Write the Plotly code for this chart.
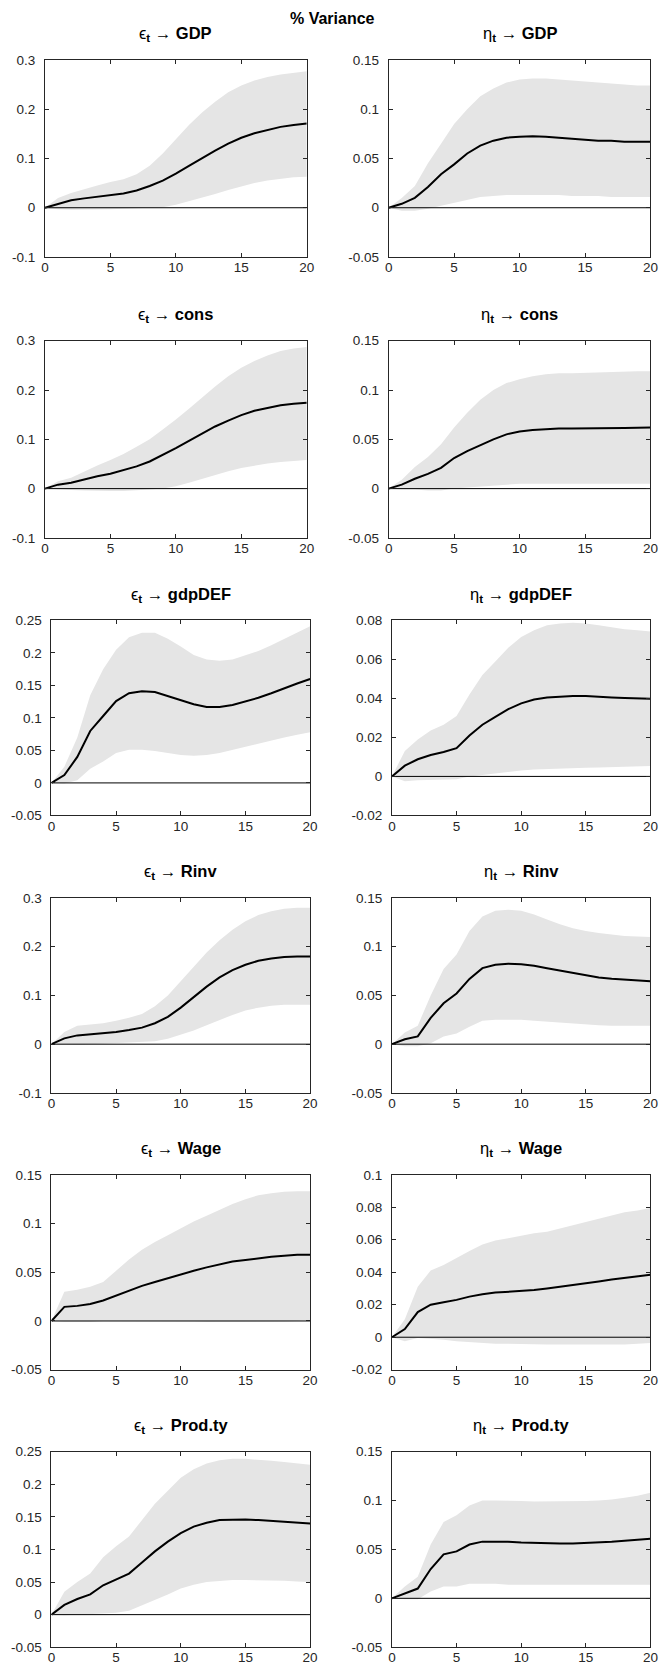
import plotly.graph_objects as go

W, H = 668, 1679

horizon = [0, 1, 2, 3, 4, 5, 6, 7, 8, 9, 10, 11, 12, 13, 14, 15, 16, 17, 18, 19, 20]
x_ticks = [0, 5, 10, 15, 20]

shock_labels = ["ϵ", "η"]
variables = ["GDP", "cons", "gdpDEF", "Rinv", "Wage", "Prod.ty"]

# ---- eps -> GDP
eps_gdp_med = [0, 0.008, 0.015, 0.019, 0.022, 0.025, 0.029, 0.035, 0.044, 0.055, 0.069, 0.085, 0.101, 0.116, 0.130, 0.142, 0.151, 0.158, 0.164, 0.168, 0.171]
eps_gdp_up = [0, 0.020, 0.030, 0.038, 0.045, 0.052, 0.058, 0.068, 0.085, 0.110, 0.140, 0.168, 0.193, 0.215, 0.234, 0.248, 0.258, 0.265, 0.270, 0.274, 0.277]
eps_gdp_lo = [0, -0.003, -0.004, -0.004, -0.004, -0.003, -0.002, -0.001, 0.000, 0.001, 0.006, 0.013, 0.020, 0.028, 0.036, 0.043, 0.050, 0.055, 0.059, 0.062, 0.063]
# ---- eta -> GDP
eta_gdp_med = [0, 0.004, 0.010, 0.021, 0.034, 0.044, 0.055, 0.063, 0.068, 0.071, 0.072, 0.0725, 0.072, 0.071, 0.070, 0.069, 0.068, 0.068, 0.067, 0.067, 0.067]
eta_gdp_up = [0, 0.010, 0.022, 0.045, 0.065, 0.085, 0.100, 0.113, 0.121, 0.127, 0.130, 0.131, 0.131, 0.130, 0.129, 0.128, 0.127, 0.126, 0.125, 0.124, 0.124]
eta_gdp_lo = [0, -0.003, -0.003, -0.001, 0.002, 0.005, 0.008, 0.011, 0.012, 0.013, 0.013, 0.013, 0.013, 0.013, 0.012, 0.012, 0.012, 0.011, 0.011, 0.011, 0.011]
# ---- eps -> cons
eps_cons_med = [0, 0.008, 0.012, 0.019, 0.025, 0.030, 0.037, 0.045, 0.055, 0.068, 0.082, 0.097, 0.112, 0.126, 0.138, 0.149, 0.158, 0.164, 0.169, 0.172, 0.174]
eps_cons_up = [0, 0.015, 0.022, 0.035, 0.047, 0.058, 0.070, 0.085, 0.100, 0.120, 0.140, 0.162, 0.185, 0.207, 0.228, 0.245, 0.259, 0.270, 0.279, 0.284, 0.287]
eps_cons_lo = [0, -0.002, -0.003, -0.004, -0.005, -0.005, -0.005, -0.004, -0.002, 0.000, 0.005, 0.012, 0.020, 0.028, 0.035, 0.042, 0.047, 0.051, 0.054, 0.056, 0.058]
# ---- eta -> cons
eta_cons_med = [0, 0.004, 0.010, 0.015, 0.021, 0.031, 0.038, 0.044, 0.050, 0.055, 0.058, 0.0595, 0.0603, 0.061, 0.061, 0.061, 0.061, 0.0613, 0.0615, 0.0618, 0.062]
eta_cons_up = [0, 0.009, 0.022, 0.032, 0.045, 0.062, 0.077, 0.090, 0.100, 0.107, 0.111, 0.114, 0.116, 0.117, 0.117, 0.1175, 0.118, 0.118, 0.1185, 0.119, 0.119]
eta_cons_lo = [0, -0.001, -0.001, -0.002, -0.002, 0.000, 0.001, 0.002, 0.003, 0.004, 0.005, 0.005, 0.005, 0.005, 0.005, 0.005, 0.005, 0.005, 0.005, 0.005, 0.005]
# ---- eps -> gdpDEF
eps_def_med = [0, 0.012, 0.040, 0.080, 0.103, 0.126, 0.138, 0.141, 0.140, 0.134, 0.127, 0.121, 0.117, 0.117, 0.120, 0.125, 0.131, 0.138, 0.146, 0.153, 0.160]
eps_def_up = [0, 0.025, 0.070, 0.135, 0.175, 0.205, 0.224, 0.231, 0.231, 0.222, 0.210, 0.197, 0.190, 0.188, 0.190, 0.196, 0.203, 0.212, 0.222, 0.232, 0.241]
eps_def_lo = [0, -0.001, 0.004, 0.022, 0.033, 0.046, 0.051, 0.051, 0.049, 0.046, 0.043, 0.042, 0.043, 0.046, 0.051, 0.056, 0.061, 0.066, 0.070, 0.074, 0.078]
# ---- eta -> gdpDEF
eta_def_med = [0, 0.0055, 0.0088, 0.011, 0.0125, 0.0145, 0.021, 0.0265, 0.0305, 0.0345, 0.0375, 0.0395, 0.0405, 0.041, 0.0413, 0.0412, 0.041, 0.0405, 0.0402, 0.040, 0.0398]
eta_def_up = [0, 0.013, 0.019, 0.0235, 0.0265, 0.031, 0.042, 0.052, 0.059, 0.066, 0.0715, 0.075, 0.0775, 0.0785, 0.0788, 0.0785, 0.0775, 0.0765, 0.0755, 0.075, 0.0743]
eta_def_lo = [0, -0.0025, -0.002, -0.0018, -0.0016, -0.0015, 0.0, 0.0008, 0.0015, 0.0022, 0.003, 0.0035, 0.0038, 0.004, 0.0042, 0.0044, 0.0046, 0.0048, 0.005, 0.0052, 0.0053]
# ---- eps -> Rinv
eps_rinv_med = [0, 0.012, 0.018, 0.020, 0.022, 0.025, 0.029, 0.034, 0.043, 0.056, 0.075, 0.097, 0.118, 0.137, 0.152, 0.163, 0.171, 0.176, 0.179, 0.180, 0.180]
eps_rinv_up = [0, 0.025, 0.038, 0.040, 0.043, 0.048, 0.054, 0.062, 0.078, 0.100, 0.130, 0.160, 0.188, 0.213, 0.235, 0.252, 0.265, 0.273, 0.278, 0.280, 0.280]
eps_rinv_lo = [0, -0.001, -0.001, 0.000, 0.001, 0.002, 0.003, 0.004, 0.006, 0.011, 0.019, 0.028, 0.039, 0.050, 0.060, 0.069, 0.075, 0.079, 0.081, 0.081, 0.081]
# ---- eta -> Rinv
eta_rinv_med = [0, 0.005, 0.008, 0.027, 0.042, 0.052, 0.067, 0.078, 0.0815, 0.0825, 0.082, 0.0805, 0.078, 0.0755, 0.073, 0.0705, 0.0685, 0.067, 0.066, 0.065, 0.0645]
eta_rinv_up = [0, 0.012, 0.019, 0.050, 0.077, 0.092, 0.116, 0.131, 0.137, 0.138, 0.137, 0.133, 0.128, 0.123, 0.119, 0.116, 0.114, 0.1125, 0.111, 0.1105, 0.110]
eta_rinv_lo = [0, -0.002, -0.002, 0.001, 0.008, 0.011, 0.018, 0.024, 0.025, 0.025, 0.025, 0.024, 0.023, 0.022, 0.021, 0.020, 0.0195, 0.019, 0.019, 0.019, 0.019]
# ---- eps -> Wage
eps_wage_med = [0, 0.0145, 0.0155, 0.0175, 0.021, 0.026, 0.031, 0.036, 0.040, 0.044, 0.048, 0.0515, 0.055, 0.058, 0.061, 0.0625, 0.0645, 0.066, 0.067, 0.068, 0.068]
eps_wage_up = [0, 0.030, 0.032, 0.035, 0.040, 0.052, 0.063, 0.073, 0.081, 0.088, 0.095, 0.102, 0.108, 0.114, 0.120, 0.125, 0.129, 0.131, 0.1325, 0.133, 0.133]
eps_wage_lo = [0, -0.001, -0.001, -0.001, 0.000, 0.000, 0.000, 0.000, 0.000, 0.000, 0.000, -0.0005, -0.001, -0.001, -0.001, -0.001, -0.001, -0.001, -0.0005, 0.000, 0.001]
# ---- eta -> Wage
eta_wage_med = [0, 0.005, 0.0155, 0.020, 0.0215, 0.023, 0.025, 0.0265, 0.0275, 0.028, 0.0285, 0.029, 0.030, 0.031, 0.032, 0.033, 0.0343, 0.0355, 0.0365, 0.0375, 0.0385]
eta_wage_up = [0, 0.011, 0.031, 0.041, 0.0445, 0.049, 0.053, 0.057, 0.0595, 0.061, 0.0625, 0.064, 0.065, 0.067, 0.069, 0.071, 0.073, 0.075, 0.077, 0.078, 0.0795]
eta_wage_lo = [0, -0.0025, -0.0005, -0.001, -0.0015, -0.0025, -0.003, -0.0035, -0.004, -0.004, -0.004, -0.0043, -0.0045, -0.0045, -0.0045, -0.0045, -0.0045, -0.0045, -0.0045, -0.004, -0.0035]
# ---- eps -> Prod.ty
eps_prod_med = [0, 0.015, 0.024, 0.031, 0.045, 0.054, 0.063, 0.080, 0.097, 0.112, 0.125, 0.135, 0.141, 0.145, 0.146, 0.146, 0.145, 0.144, 0.143, 0.142, 0.140]
eps_prod_up = [0, 0.035, 0.050, 0.063, 0.088, 0.105, 0.120, 0.145, 0.170, 0.190, 0.210, 0.223, 0.232, 0.237, 0.239, 0.239, 0.238, 0.236, 0.234, 0.232, 0.230]
eps_prod_lo = [0, -0.001, 0.000, 0.001, 0.002, 0.003, 0.006, 0.014, 0.022, 0.031, 0.040, 0.046, 0.050, 0.052, 0.053, 0.053, 0.053, 0.052, 0.052, 0.051, 0.050]
# ---- eta -> Prod.ty
eta_prod_med = [0, 0.005, 0.010, 0.030, 0.045, 0.048, 0.055, 0.058, 0.058, 0.0578, 0.057, 0.0565, 0.056, 0.056, 0.056, 0.0565, 0.057, 0.058, 0.059, 0.060, 0.061]
eta_prod_up = [0, 0.012, 0.022, 0.055, 0.078, 0.085, 0.095, 0.100, 0.100, 0.100, 0.0995, 0.099, 0.099, 0.099, 0.099, 0.0995, 0.100, 0.101, 0.103, 0.105, 0.108]
eta_prod_lo = [0, -0.001, -0.001, 0.007, 0.012, 0.012, 0.015, 0.015, 0.015, 0.014, 0.014, 0.014, 0.014, 0.014, 0.014, 0.014, 0.014, 0.014, 0.014, 0.014, 0.014]

# y tick values / labels
yt_a = [-0.1, 0, 0.1, 0.2, 0.3]
yl_a = ["-0.1", "0", "0.1", "0.2", "0.3"]
yt_b = [-0.05, 0, 0.05, 0.1, 0.15]
yl_b = ["-0.05", "0", "0.05", "0.1", "0.15"]
yt_c = [-0.05, 0, 0.05, 0.1, 0.15, 0.2, 0.25]
yl_c = ["-0.05", "0", "0.05", "0.1", "0.15", "0.2", "0.25"]
yt_d = [-0.02, 0, 0.02, 0.04, 0.06, 0.08]
yl_d = ["-0.02", "0", "0.02", "0.04", "0.06", "0.08"]
yt_e = [-0.02, 0, 0.02, 0.04, 0.06, 0.08, 0.1]
yl_e = ["-0.02", "0", "0.02", "0.04", "0.06", "0.08", "0.1"]

panels = [
    (0, 0, eps_gdp_med, eps_gdp_up, eps_gdp_lo, yt_a, yl_a),
    (1, 0, eta_gdp_med, eta_gdp_up, eta_gdp_lo, yt_b, yl_b),
    (0, 1, eps_cons_med, eps_cons_up, eps_cons_lo, yt_a, yl_a),
    (1, 1, eta_cons_med, eta_cons_up, eta_cons_lo, yt_b, yl_b),
    (0, 2, eps_def_med, eps_def_up, eps_def_lo, yt_c, yl_c),
    (1, 2, eta_def_med, eta_def_up, eta_def_lo, yt_d, yl_d),
    (0, 3, eps_rinv_med, eps_rinv_up, eps_rinv_lo, yt_a, yl_a),
    (1, 3, eta_rinv_med, eta_rinv_up, eta_rinv_lo, yt_b, yl_b),
    (0, 4, eps_wage_med, eps_wage_up, eps_wage_lo, yt_b, yl_b),
    (1, 4, eta_wage_med, eta_wage_up, eta_wage_lo, yt_e, yl_e),
    (0, 5, eps_prod_med, eps_prod_up, eps_prod_lo, yt_c, yl_c),
    (1, 5, eta_prod_med, eta_prod_up, eta_prod_lo, yt_b, yl_b),
]

# layout geometry in pixels
row_px = [(53.3, 252.3), (336.7, 535.7), (619, 815.7), (899, 1095.7), (1178.3, 1375), (1457.7, 1655)]
col_px_wide = [(41.7, 308.3), (391.7, 658.3)]
col_px_narrow = [(48.3, 311.7), (395, 658.3)]

AX = "#262626"
FONT = "Liberation Sans, Arial, Helvetica, sans-serif"
BAND = "#e5e5e5"

fig = go.Figure()
layout = dict(
    width=W, height=H, margin=dict(l=0, r=0, t=0, b=0),
    paper_bgcolor="white", plot_bgcolor="white", showlegend=False,
    font=dict(family=FONT, size=13.5, color=AX),
)
annotations = []

for i, (col, row, med, up, lo, yt, yl) in enumerate(panels):
    k = i + 1
    xa = "x" if k == 1 else f"x{k}"
    ya = "y" if k == 1 else f"y{k}"
    top, bot = row_px[row]
    cpx = (col_px_wide if row < 2 else col_px_narrow)[col]
    fig.add_trace(go.Scatter(x=horizon, y=up, xaxis=xa, yaxis=ya, mode="lines",
                             line=dict(width=0, color=BAND), hoverinfo="skip"))
    fig.add_trace(go.Scatter(x=horizon, y=lo, xaxis=xa, yaxis=ya, mode="lines",
                             line=dict(width=0, color=BAND), fill="tonexty",
                             fillcolor=BAND, hoverinfo="skip"))
    fig.add_trace(go.Scatter(x=horizon, y=[0] * len(horizon), xaxis=xa, yaxis=ya, mode="lines",
                             line=dict(width=1, color="black"), hoverinfo="skip"))
    fig.add_trace(go.Scatter(x=horizon, y=med, xaxis=xa, yaxis=ya, mode="lines",
                             line=dict(width=2, color="black")))
    axcommon = dict(showgrid=False, zeroline=False, showline=True, linecolor=AX, linewidth=1,
                    mirror="ticks", ticks="inside", ticklen=4, tickwidth=1, tickcolor=AX,
                    tickfont=dict(family=FONT, size=13.5, color=AX))
    layout["xaxis" if k == 1 else f"xaxis{k}"] = dict(
        domain=[cpx[0] / W, cpx[1] / W], anchor=ya, range=[0, 20],
        tickvals=x_ticks, ticktext=[str(v) for v in x_ticks], ticklabelstandoff=-2, **axcommon)
    layout["yaxis" if k == 1 else f"yaxis{k}"] = dict(
        domain=[1 - bot / H, 1 - top / H], anchor=xa, range=[yt[0], yt[-1]],
        tickvals=yt, ticktext=yl, ticklabelstandoff=6, **axcommon)
    title = (f"{shock_labels[col]}<sub><b>t</b></sub> → <b>{variables[row]}</b>")
    annotations.append(dict(
        text=title, xref="paper", yref="paper",
        x=(cpx[0] + cpx[1]) / 2 / W, y=1 - (top - 26) / H,
        xanchor="center", yanchor="middle", showarrow=False,
        font=dict(family=FONT, size=16.5, color="black")))

annotations.append(dict(
    text="<b>% Variance</b>", xref="paper", yref="paper",
    x=335 / W, y=1 - 11.5 / H, xanchor="center", yanchor="middle", showarrow=False,
    font=dict(family=FONT, size=16, color="black")))

layout["annotations"] = annotations
fig.update_layout(**layout)
fig.write_html("out.html")
